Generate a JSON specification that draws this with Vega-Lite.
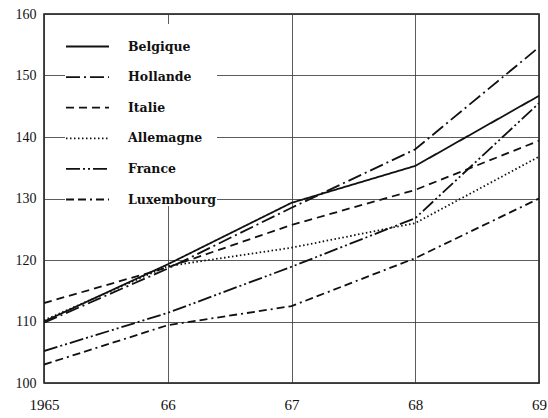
{
  "$schema": "https://vega.github.io/schema/vega-lite/v6.json",
  "autosize": "none",
  "padding": {"left": 44, "top": 14, "right": 9, "bottom": 35},
  "width": 495,
  "height": 369,
  "background": "white",
  "config": {
    "view": {"stroke": "#111", "strokeWidth": 1.5},
    "font": "Liberation Serif"
  },
  "data": {
    "values": [
      {"pays": "Belgique", "annee": 1965, "indice": 110},
      {"pays": "Belgique", "annee": 1966, "indice": 119.3},
      {"pays": "Belgique", "annee": 1967, "indice": 129.3},
      {"pays": "Belgique", "annee": 1968, "indice": 135.3},
      {"pays": "Belgique", "annee": 1969, "indice": 146.7},
      {"pays": "Hollande", "annee": 1965, "indice": 109.8},
      {"pays": "Hollande", "annee": 1966, "indice": 118.6},
      {"pays": "Hollande", "annee": 1967, "indice": 128.5},
      {"pays": "Hollande", "annee": 1968, "indice": 138},
      {"pays": "Hollande", "annee": 1969, "indice": 154.6},
      {"pays": "Italie", "annee": 1965, "indice": 113},
      {"pays": "Italie", "annee": 1966, "indice": 118.8},
      {"pays": "Italie", "annee": 1967, "indice": 125.7},
      {"pays": "Italie", "annee": 1968, "indice": 131.4},
      {"pays": "Italie", "annee": 1969, "indice": 139.4},
      {"pays": "Allemagne", "annee": 1965, "indice": 110.2},
      {"pays": "Allemagne", "annee": 1966, "indice": 119},
      {"pays": "Allemagne", "annee": 1967, "indice": 122},
      {"pays": "Allemagne", "annee": 1968, "indice": 126},
      {"pays": "Allemagne", "annee": 1969, "indice": 136.8},
      {"pays": "France", "annee": 1965, "indice": 105.2},
      {"pays": "France", "annee": 1966, "indice": 111.4},
      {"pays": "France", "annee": 1967, "indice": 118.9},
      {"pays": "France", "annee": 1968, "indice": 126.8},
      {"pays": "France", "annee": 1969, "indice": 145.5},
      {"pays": "Luxembourg", "annee": 1965, "indice": 103},
      {"pays": "Luxembourg", "annee": 1966, "indice": 109.4},
      {"pays": "Luxembourg", "annee": 1967, "indice": 112.5},
      {"pays": "Luxembourg", "annee": 1968, "indice": 120.3},
      {"pays": "Luxembourg", "annee": 1969, "indice": 130}
    ]
  },
  "mark": {"type": "line", "color": "#111", "strokeWidth": 1.8, "clip": true},
  "encoding": {
    "x": {
      "field": "annee", "type": "quantitative",
      "scale": {"domain": [1965, 1969], "nice": false, "zero": false},
      "axis": {
        "title": null, "values": [1965, 1966, 1967, 1968, 1969],
        "labelExpr": "datum.value == 1965 ? '1965' : substring(toString(datum.value), 2)",
        "domain": false, "ticks": false, "grid": true, "gridColor": "#333", "gridWidth": 1, "gridOpacity": 0.8,
        "labelFontSize": 15, "labelColor": "#111", "labelPadding": 14, "labelFont": "Liberation Serif",
        "labelFlush": false
      }
    },
    "y": {
      "field": "indice", "type": "quantitative",
      "scale": {"domain": [100, 160], "nice": false, "zero": false},
      "axis": {
        "title": null, "values": [100, 110, 120, 130, 140, 150, 160],
        "domain": false, "ticks": false, "grid": true, "gridColor": "#333", "gridWidth": 1, "gridOpacity": 0.8,
        "labelFontSize": 14, "labelColor": "#111", "labelPadding": 8, "labelFont": "Liberation Serif"
      }
    },
    "strokeDash": {
      "field": "pays", "type": "nominal",
      "scale": {
        "domain": ["Belgique", "Hollande", "Italie", "Allemagne", "France", "Luxembourg"],
        "range": [[1, 0], [14, 4, 2, 4], [8, 5], [1.5, 2.5], [14, 3, 2, 3, 2, 3], [8, 4, 8, 4, 2, 4]]
      },
      "legend": {
        "title": null, "orient": "none", "legendX": 21, "legendY": 10,
        "symbolType": "stroke", "symbolSize": 1850, "symbolStrokeWidth": 1.8, "symbolStrokeColor": "#111",
        "labelFont": "DejaVu Serif", "labelFontWeight": "bold", "labelFontSize": 12.5, "labelColor": "#111",
        "labelOffset": 18, "rowPadding": 1.6, "fillColor": "white", "padding": 0
      }
    }
  }
}
